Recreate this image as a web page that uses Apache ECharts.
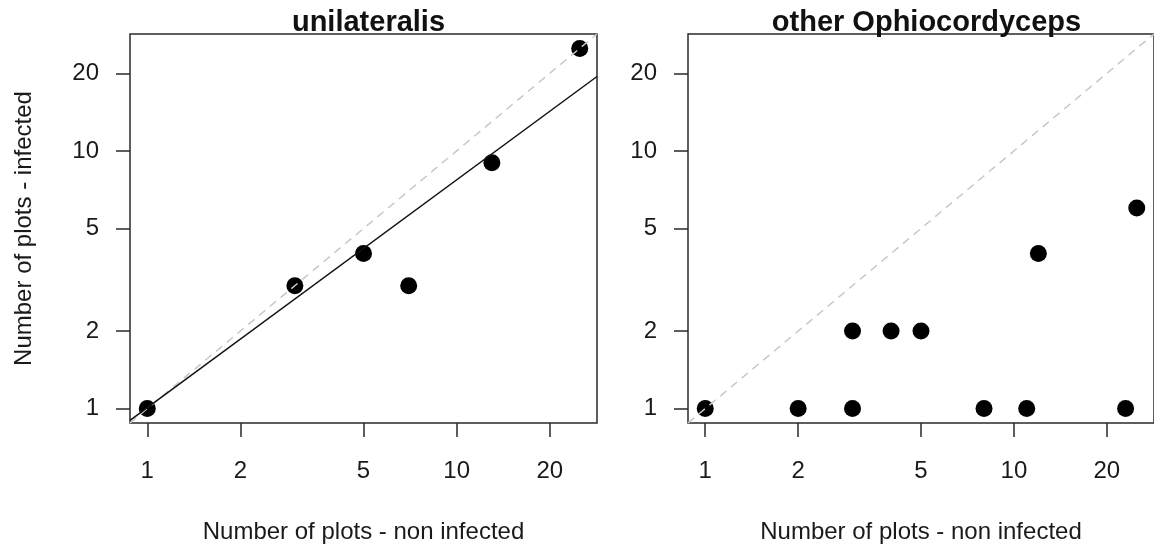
<!DOCTYPE html>
<html>
<head>
<meta charset="utf-8">
<script src="https://cdn.jsdelivr.net/npm/echarts@6/dist/echarts.min.js"></script>
<style>
html,body{margin:0;padding:0;background:#fff;}
#chart{width:1154px;height:554px;}
</style>
</head>
<body>
<div id="chart"></div>
<script>
// ---- data ----
const panelTitles = ['unilateralis', 'other Ophiocordyceps'];
const tickValues = [1, 2, 5, 10, 20];
const axisMin = 0.8793;
const axisMax = 28.43;

// unilateralis: [non infected, infected]
const uniNonInfected = [1, 3, 5, 7, 13, 25];
const uniInfected    = [1, 3, 4, 3, 9, 25];

// other Ophiocordyceps
const otherNonInfected = [1, 2, 3, 3, 4, 5, 8, 11, 12, 23, 25];
const otherInfected    = [1, 1, 1, 2, 2, 2, 1, 1, 4, 1, 6];

// fitted line (left panel), endpoints at the plot edges
const fitX = [0.8793, 28.43];
const fitY = [0.90, 19.45];

// 1:1 reference line
const refX = [axisMin, axisMax];
const refY = [axisMin, axisMax];

const xTitle = 'Number of plots - non infected';
const yTitle = 'Number of plots - infected';

// ---- chart ----
const font = 'Liberation Sans, Arial, Helvetica, sans-serif';
const textColor = '#1a1a1a';
const lineColor = '#2a2a2a';

function zip(a, b) { return a.map((v, i) => [v, b[i]]); }

const grids = [
  {left: 130, top: 34, width: 467, height: 389},
  {left: 688, top: 34, width: 467, height: 389}
];

function makeX(i) {
  return {
    type: 'log', gridIndex: i, min: axisMin, max: axisMax, logBase: 10,
    name: xTitle, nameLocation: 'middle', nameGap: 97,
    nameTextStyle: {fontFamily: font, fontSize: 24, color: textColor},
    axisLine: {show: false},
    axisTick: {show: true, length: 14, customValues: tickValues, lineStyle: {color: lineColor, width: 1.5}},
    axisLabel: {customValues: tickValues, margin: 36, fontFamily: font, fontSize: 24, color: textColor,
      formatter: v => String(Math.round(v))},
    splitLine: {show: false}, minorTick: {show: false}
  };
}
function makeY(i) {
  return {
    type: 'log', gridIndex: i, min: axisMin, max: axisMax, logBase: 10,
    name: i === 0 ? yTitle : '', nameLocation: 'middle', nameGap: 94, nameRotate: 90,
    nameTextStyle: {fontFamily: font, fontSize: 24, color: textColor},
    axisLine: {show: false},
    axisTick: {show: true, length: 14, customValues: tickValues, lineStyle: {color: lineColor, width: 1.5}},
    axisLabel: {customValues: tickValues, margin: 31, fontFamily: font, fontSize: 24, color: textColor,
      formatter: v => String(Math.round(v))},
    splitLine: {show: false}, minorTick: {show: false}
  };
}

const chart = echarts.init(document.getElementById('chart'), null, {renderer: 'canvas'});
chart.setOption({
  animation: false,
  backgroundColor: '#fff',
  title: panelTitles.map((t, i) => ({
    text: t,
    left: grids[i].left + 467 / 2,
    textAlign: 'center',
    top: 3,
    textStyle: {fontFamily: font, fontSize: 29, fontWeight: 'bold', color: '#111'}
  })),
  grid: grids.map(g => Object.assign({show: true, borderColor: lineColor, borderWidth: 1.5, backgroundColor: 'transparent'}, g)),
  xAxis: [makeX(0), makeX(1)],
  yAxis: [makeY(0), makeY(1)],
  series: [
    {type: 'scatter', xAxisIndex: 0, yAxisIndex: 0, data: zip(uniNonInfected, uniInfected),
      symbol: 'circle', symbolSize: 17, itemStyle: {color: '#000', opacity: 1}, z: 2},
    {type: 'scatter', xAxisIndex: 1, yAxisIndex: 1, data: zip(otherNonInfected, otherInfected),
      symbol: 'circle', symbolSize: 17, itemStyle: {color: '#000', opacity: 1}, z: 2},
    {type: 'line', xAxisIndex: 0, yAxisIndex: 0, data: zip(refX, refY), showSymbol: false, symbol: 'none',
      lineStyle: {color: '#c8c8c8', width: 1.5, type: [8, 6]}, z: 3, silent: true},
    {type: 'line', xAxisIndex: 1, yAxisIndex: 1, data: zip(refX, refY), showSymbol: false, symbol: 'none',
      lineStyle: {color: '#c8c8c8', width: 1.5, type: [8, 6]}, z: 3, silent: true},
    {type: 'line', xAxisIndex: 0, yAxisIndex: 0, data: zip(fitX, fitY), showSymbol: false, symbol: 'none',
      lineStyle: {color: '#111', width: 1.5}, z: 4, silent: true}
  ]
});
</script>
</body>
</html>
